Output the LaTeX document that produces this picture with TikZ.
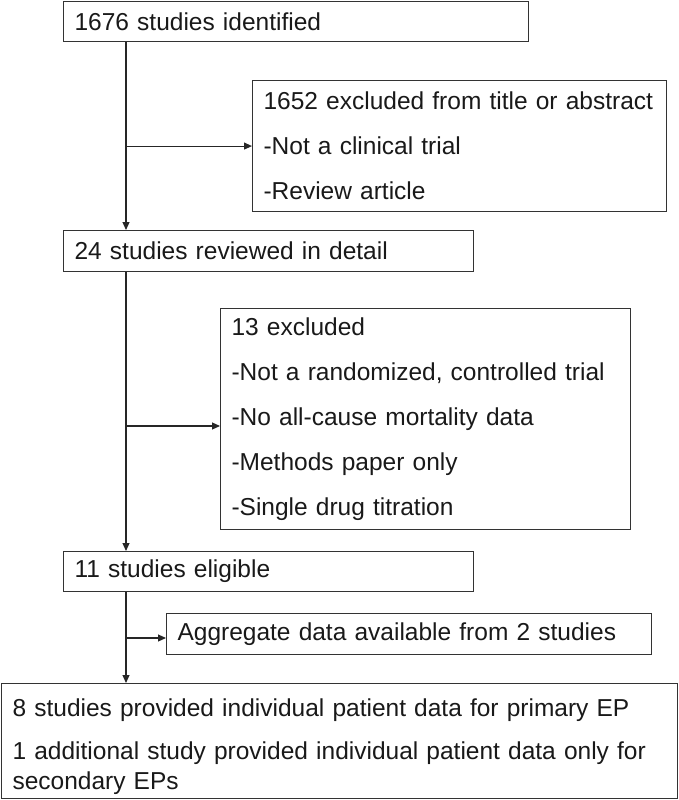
\documentclass[tikz,border=0pt]{standalone}
\usepackage{fontspec}
\setmainfont{Liberation Sans}
\usetikzlibrary{arrows.meta}
\tikzset{
  box/.style={draw=black!80, line width=1.1pt, inner xsep=11pt, inner ysep=0pt,
    anchor=north west, align=left, text=black!90,
    font=\fontsize{24.5}{30}\selectfont},
  arr/.style={draw=black!85, line width=1.1pt, -{Triangle[length=8pt,width=7pt]}},
  ln/.style={draw=black!85, line width=1.1pt}
}
\begin{document}
\begin{tikzpicture}[x=1pt,y=-1pt]
\useasboundingbox (0,0) rectangle (678,800);
\node[box, text width=443pt, minimum height=40pt] (b1) at (63,1) {1676 studies identified};
\node[box, text width=392pt, minimum height=131pt] (b2) at (252,80) {1652 excluded from title or abstract\\[15pt]-Not a clinical trial\\[15pt]-Review article};
\node[box, text width=388pt, minimum height=41pt] (b3) at (63,230) {24 studies reviewed in detail};
\node[box, text width=388pt, minimum height=221pt] (b4) at (220,308) {13 excluded\\[15pt]-Not a randomized, controlled trial\\[15pt]-No all-cause mortality data\\[15pt]-Methods paper only\\[15pt]-Single drug titration};
\node[box, text width=388pt, minimum height=40pt] (b5) at (63,551) {11 studies eligible};
\node[box, text width=463pt, minimum height=41pt] (b6) at (166,613) {Aggregate data available from 2 studies};
\node[box, text width=654pt, minimum height=115pt] (b7) at (1,683) {\rule{0pt}{28pt}8 studies provided individual patient data for primary EP\\[13pt]1 additional study provided individual patient data only for\\secondary EPs};
\coordinate (s1) at (126,0);
\draw[arr] (b1.south -| s1) -- (b3.north -| s1);
\draw[arr] (s1 |- b2.west) -- (b2.west);
\draw[arr] (b3.south -| s1) -- (b5.north -| s1);
\coordinate (e4) at ([yshift=-118pt]b4.north west);
\draw[arr] (s1 |- e4) -- (e4);
\draw[arr] (b5.south -| s1) -- (b7.north -| s1);
\coordinate (e6) at ([yshift=-25pt]b6.north west);
\draw[arr] (s1 |- e6) -- (e6);
\end{tikzpicture}
\end{document}
